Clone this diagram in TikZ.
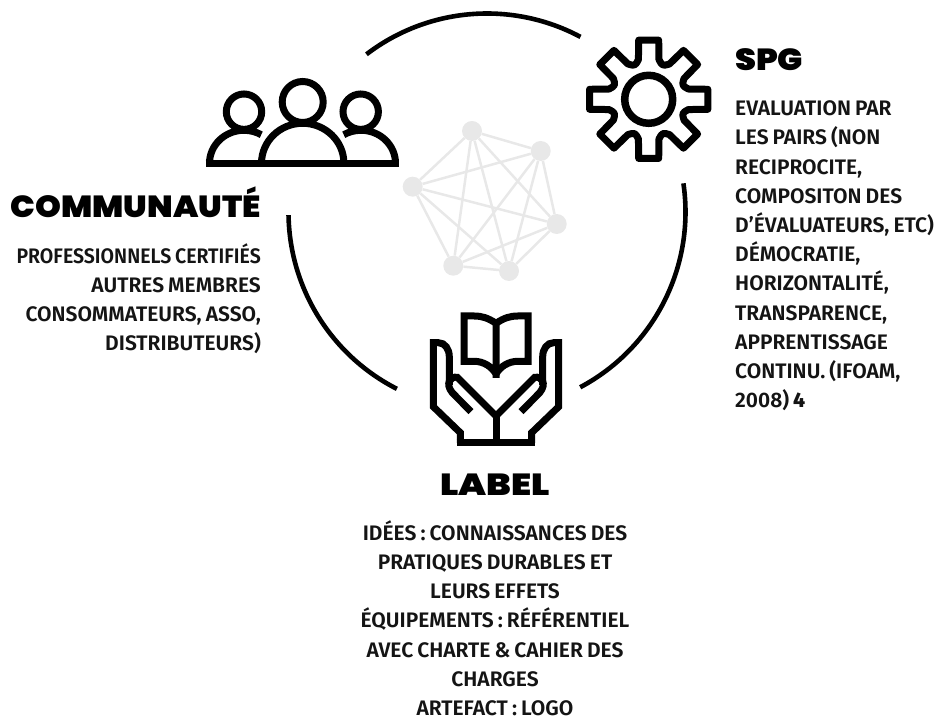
\documentclass[tikz,border=0pt]{standalone}
\usepackage{fontspec}
\setmainfont{Fira Sans}
\newfontfamily\bodyfont[WordSpace=0.8]{Fira Sans SemiBold}
\newfontfamily\numfont{Fira Sans ExtraBold}
\newfontfamily\headfont[FakeStretch=1.1]{Poppins Black}
\usetikzlibrary{positioning}
\definecolor{nodegrey}{HTML}{E8E8E8}
\definecolor{inkblack}{HTML}{141414}
\tikzset{
  ring/.style={line width=4.6pt},
  icon/.style={line width=7pt,line join=miter},
  dot/.style={circle,fill=nodegrey,minimum size=20pt,inner sep=0pt},
  link/.style={draw=nodegrey,line width=2.5pt},
  head/.style={font=\headfont\fontsize{30.5}{33}\selectfont,inner sep=0pt},
  body/.style={font=\bodyfont\fontsize{21}{29.2}\selectfont,text=inkblack,inner sep=0pt},
  hand/.pic={
    \draw[icon] (-35.7,274) -- (-35.7,284.3) -- (-62.7,310.3) -- (-62.7,374.3) -- (-57.7,374.3)
      .. controls (-51,374.3) and (-46.7,368) .. (-46.7,360.3) -- (-46.7,332);
    \draw[icon] (-25,305.3) -- (-43.7,324.3) .. controls (-51,333) and (-46,341) .. (-38.7,339.7) -- (0,301);
  }
}
\begin{document}
\begin{tikzpicture}[x=1pt,y=1pt]
  \useasboundingbox (0,0) rectangle (938,717);
  % ring
  \coordinate (ringc) at (487,505);
  \draw[ring] ([shift={(127.4:198.5)}]ringc) arc[start angle=127.4,end angle=61.9,radius=198.5];
  \draw[ring] ([shift={(180.9:198.5)}]ringc) arc[start angle=180.9,end angle=243,radius=198.5];
  \draw[ring] ([shift={(8.3:198.5)}]ringc) arc[start angle=8.3,end angle=-62,radius=198.5];
  % network
  \node[dot] (n1) at (472,586) {};
  \node[dot] (n2) at (540.7,566) {};
  \node[dot] (n3) at (556.7,493) {};
  \node[dot] (n4) at (509,446) {};
  \node[dot] (n5) at (453.3,451.3) {};
  \node[dot] (n6) at (412.7,530.3) {};
  \foreach \a/\b in {n1/n2,n1/n4,n1/n5,n1/n6,n1/n3,n2/n3,n2/n4,n2/n5,n2/n6,n3/n4,n3/n5,n3/n6,n4/n5,n4/n6,n5/n6}
    \draw[link] (\a) -- (\b);
  % people
  \draw[icon] (244,605.3) circle[radius=17.7];
  \draw[icon] (360.7,605.3) circle[radius=17.7];
  \draw[icon] (302.7,615) circle[radius=20.5];
  \draw[icon] (209.5,553.7) arc[start angle=180,end angle=60,x radius=34.5,y radius=33];
  \draw[icon] (395.5,553.7) arc[start angle=0,end angle=120,x radius=34.5,y radius=33];
  \draw[icon,fill=white] (261.5,553.7) arc[start angle=180,end angle=0,x radius=41.2,y radius=40];
  \draw[icon] (205.7,553.7) -- (399.3,553.7);
  % gear
  \begin{scope}[shift={(648.7,617.7)}]
    \draw[icon,line width=7.5pt] (0,0) circle[radius=24];
    \draw[icon,line join=round] (-14.5:41) \foreach \t in {0,45,...,315} {
        -- (\t-9.6:60) -- (\t+9.6:60) -- (\t+14.5:41)
        .. controls (\t+22.5:36) .. (\t+30.5:41)
      } -- cycle;
  \end{scope}
  % hands and book
  \pic at (496,0) {hand};
  \pic[xscale=-1] at (496,0) {hand};
  \draw[icon] (456.7,274) -- (535.3,274);
  \draw[icon] (496,301) -- (496,274);
  \draw[icon] (496,339) -- (496,393.7) .. controls (488,399) and (482,401) .. (474,401) -- (464,401) -- (464,355.7) -- (474,355.7)
    .. controls (484,355.7) and (492,350) .. (496,343);
  \draw[icon] (496,393.7) .. controls (504,399) and (510,401) .. (518,401) -- (528,401) -- (528,355.7) -- (518,355.7)
    .. controls (508,355.7) and (500,350) .. (496,343);
  % texts
  \node[head,anchor=base east] (commhead) at (261,499.3) {\scalebox{0.98}[1]{COMMUNAUTÉ}};
  \node[body,align=right,below=25pt of commhead.south east,anchor=north east] (commtext)
    {\scalebox{0.93}[1]{PROFESSIONNELS CERTIFIÉS}\\AUTRES MEMBRES\\CONSOMMATEURS, ASSO,\\DISTRIBUTEURS)};
  \node[head,anchor=base west] (spghead) at (735,646.3) {SPG};
  \node[body,align=left,below=29.5pt of spghead.south west,anchor=north west] (spgtext)
    {EVALUATION PAR\\LES PAIRS (NON\\RECIPROCITE,\\COMPOSITON DES\\D’ÉVALUATEURS, ETC)\\DÉMOCRATIE,\\HORIZONTALITÉ,\\TRANSPARENCE,\\APPRENTISSAGE\\CONTINU. (IFOAM,\\2008) {\numfont 4}};
  \node[head,anchor=base] (labelhead) at (495,221) {\scalebox{1.08}[1]{LABEL}};
  \node[body,align=center,below=24pt of labelhead.south,anchor=north] (labeltext)
    {IDÉES : CONNAISSANCES DES\\PRATIQUES DURABLES ET\\LEURS EFFETS\\ÉQUIPEMENTS : RÉFÉRENTIEL\\AVEC CHARTE \& CAHIER DES\\CHARGES\\ARTEFACT : LOGO};
\end{tikzpicture}
\end{document}
